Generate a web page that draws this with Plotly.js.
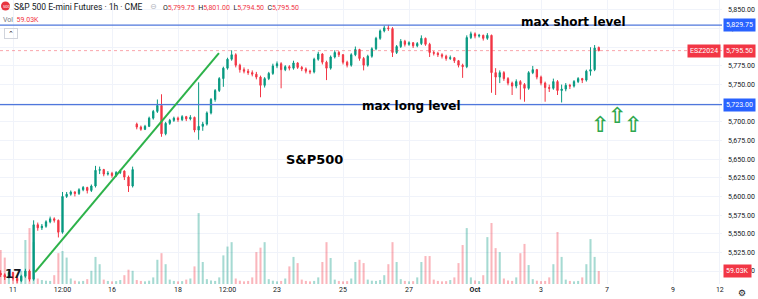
<!DOCTYPE html>
<html>
<head>
<meta charset="utf-8">
<script src="https://cdn.plot.ly/plotly-3.0.1.min.js"></script>
<style>html,body{margin:0;padding:0;background:#fff}#chart{width:758px;height:299px}</style>
</head>
<body>
<div id="chart"></div>
<script>
const openP = [5497,5495,5492,5498,5490,5487,5493,5500,5489,
5562,5558,5560,5566,5570,5568,5552,5600,
5603,5606,5604,5609,5612,5608,5614,5635,
5636,5630,5631,5628,5632,5634,5626,5614,
5697,5693,5690,5694,5705,5714,5722,5684,
5698,5702,5705,5703,5707,5704,5706,5689,5694,
5697,5712,5730,5742,5758,5772,5784,
5790,5776,5770,5768,5766,5764,5760,5749,
5758,5765,5775,5778,5770,5774,5772,5779,
5773,5771,5768,5767,5784,5791,5780,5772,
5787,5793,5790,5780,5776,5790,5797,5785,
5776,5788,5798,5812,5822,5826,5825,5793,
5801,5808,5804,5806,5802,5805,5812,5804,
5793,5792,5790,5788,5785,5786,5782,5776,5774,
5813,5818,5815,5816,5812,5816,5766,5760,
5766,5758,5752,5748,5754,5750,5745,
5766,5770,5760,5752,5746,5745,5754,5742,
5744,5749,5748,5754,5758,5756,5768,5770,5799.75];
const highP = [5501,5497,5500,5499,5492,5495,5503,5502,5568,
5565,5563,5568,5573,5572,5569,5606,5606,
5608,5607,5611,5614,5613,5616,5641,5640,
5637,5634,5633,5634,5636,5635,5628,5640,
5699,5695,5696,5707,5716,5730,5737,5700,
5704,5707,5707,5709,5708,5709,5707,5753,5700,
5714,5732,5744,5760,5774,5786,5796,
5792,5778,5773,5771,5769,5767,5762,5760,
5767,5778,5781,5780,5776,5776,5782,5780,
5775,5773,5770,5786,5794,5792,5782,5789,
5796,5795,5791,5782,5792,5801,5798,5787,
5790,5800,5814,5824,5829,5830,5827,5803,
5811,5810,5808,5807,5807,5816,5813,5806,
5795,5794,5792,5790,5789,5787,5783,5778,5816,
5821,5820,5818,5817,5819,5817,5772,5769,
5768,5760,5754,5757,5756,5752,5768,
5775,5771,5762,5754,5750,5758,5756,5750,
5752,5751,5756,5760,5759,5770,5800,5803,5801];
const lowP = [5492,5488,5490,5487,5484,5485,5491,5486,5487,
5554,5555,5558,5564,5565,5545,5550,5598,
5601,5600,5602,5607,5604,5606,5612,5630,
5627,5628,5625,5626,5630,5622,5606,5612,
5690,5688,5689,5693,5703,5712,5680,5682,
5696,5700,5700,5701,5701,5702,5686,5676,5688,
5695,5710,5727,5740,5747,5770,5782,
5773,5766,5765,5763,5761,5757,5733,5746,
5756,5763,5772,5745,5768,5769,5770,5771,
5768,5765,5764,5765,5782,5777,5756,5770,
5785,5787,5777,5773,5774,5788,5782,5769,
5774,5786,5796,5810,5820,5822,5787,5791,
5799,5801,5802,5799,5800,5803,5802,5787,
5789,5787,5785,5782,5783,5779,5773,5759,5772,
5811,5812,5813,5809,5810,5739,5736,5752,
5755,5749,5736,5745,5730,5727,5743,
5764,5757,5749,5727,5740,5743,5736,5726,
5741,5744,5746,5752,5752,5754,5762,5768,5794.5];
const closeP = [5495,5492,5498,5490,5487,5493,5500,5489,5562,
5558,5560,5566,5570,5568,5552,5600,5603,
5606,5604,5609,5612,5608,5614,5635,5636,
5630,5631,5628,5632,5634,5626,5614,5636,
5693,5690,5694,5705,5714,5722,5684,5698,
5702,5705,5703,5707,5704,5706,5689,5694,5697,
5712,5730,5742,5758,5772,5784,5790,
5776,5770,5768,5766,5764,5760,5749,5758,
5765,5775,5778,5770,5774,5772,5779,5773,
5771,5768,5767,5784,5791,5780,5772,5787,
5793,5790,5780,5776,5790,5797,5785,5776,
5788,5798,5812,5822,5826,5825,5793,5801,
5808,5804,5806,5802,5805,5812,5804,5793,
5792,5790,5788,5785,5786,5782,5776,5774,5813,
5818,5815,5816,5812,5816,5766,5760,5766,
5758,5752,5748,5754,5750,5745,5766,
5770,5760,5752,5746,5745,5754,5742,5744,
5749,5748,5754,5758,5756,5768,5770,5799,5795.5];
const volumeK = [154,120,30,25,40,60,200,254,190,
25,18,15,14,40,140,150,120,
25,15,12,14,22,60,123,90,
20,14,12,13,18,40,65,60,
18,14,12,15,30,110,140,90,
20,14,12,13,20,25,80,322,100,
22,16,14,30,130,170,190,
25,15,12,14,30,145,165,190,
22,15,12,14,25,80,123,95,
20,14,12,14,30,100,190,118,
20,14,12,13,25,100,110,95,
20,15,14,18,40,90,190,100,
22,14,12,13,30,100,127,127,
20,14,12,13,18,30,95,177,254,
30,16,13,40,213,277,163,145,
25,16,14,30,140,182,86,
22,15,13,14,30,90,236,123,
20,14,12,14,30,90,204,123,59.03];
const tickLabels = ["11","12:00","16","18","12:00","23","25","27","<b>Oct</b>","3","7","9","12"];
const tickDays   = [0,1.5,3,5,6.5,8,10,12,14,16,18,20,21.42];
const maxShort = 5829.75, maxLong = 5723.00, lastPrice = 5795.50, lastVol = 59.03;

// bar positions: one bar per 1/8 trading day, first bar 3 steps before the "11" tick
const xs = closeP.map((_, i) => (i - 3) / 8);
const volColors = closeP.map((c, i) => c >= openP[i] ? 'rgba(8,153,129,0.36)' : 'rgba(242,54,69,0.36)');

const font = 'Roboto, "Liberation Sans", sans-serif';
const red = '#f23645', blue = '#2962ff', green = '#2fa84f';

const traces = [
  {type:'bar', x: xs, y: volumeK, yaxis:'y2', marker:{color: volColors, line:{width:0}}, hoverinfo:'skip'},
  {type:'candlestick', x: xs, open: openP, high: highP, low: lowP, close: closeP,
   increasing:{line:{color:'#089981', width:1}, fillcolor:'#089981'},
   decreasing:{line:{color:'#f23645', width:1}, fillcolor:'#f23645'},
   whiskerwidth:0, hoverinfo:'skip'}
];

const ann = [];
function pxAnn(text, px, py, opts) {
  ann.push(Object.assign({xref:'paper', yref:'paper', x:0, y:1, xanchor:'left', yanchor:'top',
    xshift:px, yshift:-py, text:text, showarrow:false, font:{family:font, size:7, color:'#131722'}}, opts||{}));
}
// header
pxAnn('<span style="color:white">500</span>', 1, 1.5, {font:{family:font, size:4, color:'#fff'}});
pxAnn('S&amp;P 500 E-mini Futures · 1h · CME', 12, 0, {font:{family:font, size:8.5, color:'#131722'}});
pxAnn('⊖', 148, 0, {font:{family:'DejaVu Sans', size:8, color:'#b2b5be'}});
pxAnn('O<span style="color:#f23645">5,799.75</span>  H<span style="color:#f23645">5,801.00</span>  L<span style="color:#f23645">5,794.50</span>  C<span style="color:#f23645">5,795.50</span>', 161, 1.5, {font:{family:font, size:7, color:'#131722'}});
pxAnn('<span style="color:#787b86">Vol</span>  <span style="color:#f23645">59.03K</span>', 1, 14, {font:{family:font, size:7, color:'#787b86'}});
pxAnn('⌃', 4, 28, {font:{family:'DejaVu Sans', size:7, color:'#131722'}, bordercolor:'#d1d4dc', borderwidth:1, borderpad:0, width:12, height:9});
// TV logo
ann.push({xref:'paper', yref:'paper', x:0, y:0, xanchor:'left', yanchor:'bottom', xshift:3, yshift:1,
  text:'<b>17</b>', showarrow:false, font:{family:'DejaVu Sans', size:12, color:'#131722'}});
// gear
ann.push({xref:'paper', yref:'paper', x:1, y:0, xanchor:'center', yanchor:'top', xshift:20, yshift:-2,
  text:'⚙', showarrow:false, font:{family:'DejaVu Sans', size:9, color:'#131722'}});
// price labels
function priceTag(y, text, bg, yref) {
  ann.push({xref:'paper', yref:yref||'y', x:1, y:y, xanchor:'left', yanchor:'middle', xshift:1,
    text:text, showarrow:false, bgcolor:bg, borderpad:2, font:{family:font, size:7, color:'#fff'}});
}
priceTag(maxShort, '5,829.75', blue);
priceTag(maxLong, '5,723.00', blue);
priceTag(lastPrice, '5,795.50', red);
priceTag(lastVol, '59.03K', red, 'y2');
ann.push({xref:'paper', yref:'y', x:1, y:lastPrice, xanchor:'right', yanchor:'middle', xshift:-1,
  text:'ESZ2024', showarrow:false, bgcolor:red, borderpad:2, font:{family:font, size:7, color:'#fff'}});
// drawn texts
const hand = {family:'"DejaVu Sans", sans-serif', size:12, color:'#000'};
ann.push({x:16.97, y:5834, text:'<b>max short level</b>', showarrow:false, font:hand});
ann.push({x:12.09, y:5721, text:'<b>max long level</b>', showarrow:false, font:hand});
ann.push({x:9.15, y:5649, text:'<b>S&amp;P500</b>', showarrow:false, font:Object.assign({}, hand, {size:13})});
[[17.79,5697],[18.30,5709],[18.79,5697]].forEach(p => ann.push({x:p[0], y:p[1], text:'<b>⇧</b>', showarrow:false,
  font:{family:'DejaVu Sans', size:22, color:green}}));

const shapes = [
  {type:'line', xref:'paper', x0:0, x1:1, yref:'y', y0:maxShort, y1:maxShort, line:{color:'#4f77dc', width:1.2}},
  {type:'line', xref:'paper', x0:0, x1:1, yref:'y', y0:maxLong, y1:maxLong, line:{color:'#4f77dc', width:1.2}},
  {type:'line', xref:'paper', x0:0, x1:1, yref:'y', y0:lastPrice, y1:lastPrice, line:{color:'rgba(242,54,69,0.45)', width:1, dash:'dot'}},
  {type:'line', xref:'x', yref:'y', x0:0.667, y0:5498.6, x1:6.24, y1:5792.3, line:{color:'#2db24a', width:2}},
  {type:'circle', xref:'paper', yref:'paper', xsizemode:'pixel', ysizemode:'pixel', xanchor:0, yanchor:1,
   x0:1, x1:10, y0:-1.5, y1:-10.5, fillcolor:'#e8353f', line:{width:0}}
];

const layout = {
  width:758, height:299,
  margin:{l:0, r:36, t:0, b:15, pad:0},
  paper_bgcolor:'#fff', plot_bgcolor:'#fff',
  showlegend:false, dragmode:false, hovermode:false,
  bargap:0.5, boxgap:0.55,
  xaxis:{range:[-0.394, 21.485], tickmode:'array', tickvals:tickDays, ticktext:tickLabels,
    showgrid:true, gridcolor:'#f0f3fa', zeroline:false, showline:false, ticks:'',
    tickfont:{family:font, size:7, color:'#131722'}, rangeslider:{visible:false}, fixedrange:true},
  yaxis:{side:'right', range:[5482.6, 5863.4], tick0:5500, dtick:25, tickformat:',.2f',
    showgrid:true, gridcolor:'#f0f3fa', zeroline:false, showline:false, ticks:'',
    ticklabelstandoff:5, tickfont:{family:font, size:7, color:'#131722'}, fixedrange:true},
  yaxis2:{overlaying:'y', range:[0, 1290], visible:false, fixedrange:true},
  annotations: ann, shapes: shapes
};

Plotly.newPlot('chart', traces, layout, {staticPlot:true, displayModeBar:false});
</script>
</body>
</html>
